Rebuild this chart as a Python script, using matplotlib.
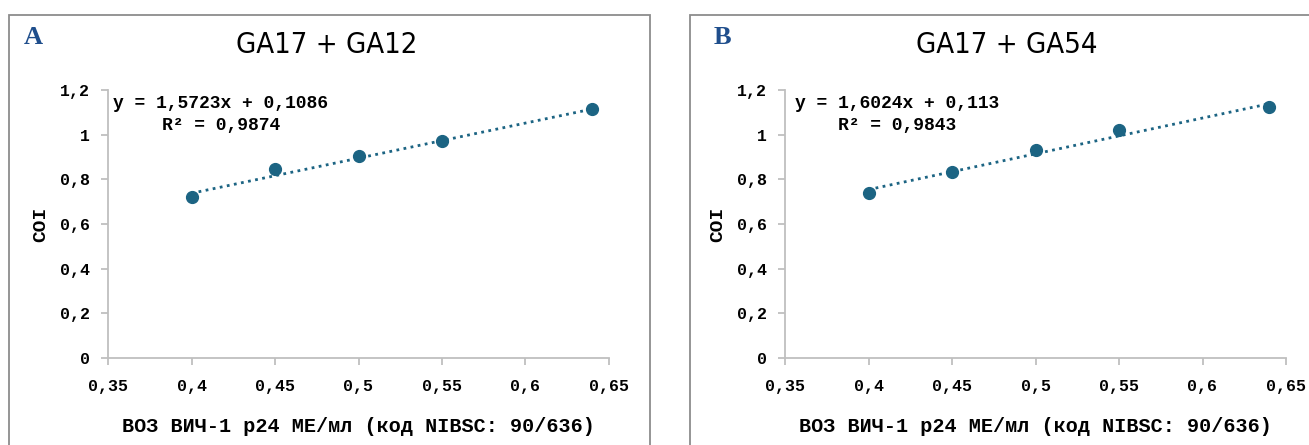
import numpy as np
import matplotlib.pyplot as plt
from matplotlib.patches import Rectangle

# data
conc = [0.4, 0.45, 0.5, 0.55, 0.64]
coi_a = [0.72, 0.845, 0.905, 0.97, 1.115]
coi_b = [0.74, 0.835, 0.93, 1.02, 1.125]
fit_a = (1.5723, 0.1086)
fit_b = (1.6024, 0.113)
eq_a = ["y = 1,5723x + 0,1086", "R² = 0,9874"]
eq_b = ["y = 1,6024x + 0,113", "R² = 0,9843"]
titles = ["GA17 + GA12", "GA17 + GA54"]
letters = ["A", "B"]
xticks = [0.35, 0.4, 0.45, 0.5, 0.55, 0.6, 0.65]
yticks = [0, 0.2, 0.4, 0.6, 0.8, 1.0, 1.2]
xlabel = "ВОЗ ВИЧ-1 p24 МЕ/мл (код NIBSC: 90/636)"

W, H = 1309, 445
mono = ["Liberation Mono", "DejaVu Sans Mono"]
dot_color = "#1c6483"
axis_color = "#bfbfbf"

fig = plt.figure(figsize=(W / 100, H / 100), dpi=100)


def fmt(v):
    s = f"{v:g}"
    return s.replace(".", ",")


panels = [
    dict(ax_left=108, frame=(9, 650), title_x=327, letter_x=33,
         y=coi_a, fit=fit_a, eq=eq_a, eq_x=(0.01, 0.108)),
    dict(ax_left=785, frame=(690, 1320), title_x=1007, letter_x=722,
         y=coi_b, fit=fit_b, eq=eq_b, eq_x=(0.02, 0.105)),
]

for i, p in enumerate(panels):
    # grey frame around the panel
    x0, x1 = p["frame"]
    fig.patches.append(Rectangle((x0 / W, -0.1), (x1 - x0) / W, 1.1 - 15 / H,
                                 transform=fig.transFigure, fill=False,
                                 edgecolor="#8c8c8c", linewidth=1.3))

    ax = fig.add_axes([p["ax_left"] / W, (H - 358) / H, 501 / W, 268 / H])
    ax.set_xlim(0.35, 0.65)
    ax.set_ylim(0, 1.2)

    xs = np.array([conc[0], conc[-1]])
    ax.plot(xs, p["fit"][0] * xs + p["fit"][1], linestyle=(0, (1, 1.6)),
            color=dot_color, linewidth=2, zorder=2)
    ax.plot(conc, p["y"], "o", color=dot_color, markersize=8.5, zorder=3)

    for side in ["top", "right"]:
        ax.spines[side].set_visible(False)
    for side in ["left", "bottom"]:
        ax.spines[side].set_color(axis_color)
        ax.spines[side].set_linewidth(1.3)
    ax.tick_params(colors=axis_color, length=5, width=1.3)
    ax.set_xticks(xticks)
    ax.set_yticks(yticks)
    ax.set_xticklabels([fmt(v) for v in xticks], family=mono, weight="bold",
                       fontsize=12, color="black")
    ax.set_yticklabels([fmt(v) for v in yticks], family=mono, weight="bold",
                       fontsize=12, color="black")
    ax.tick_params(axis="x", pad=10)
    ax.tick_params(axis="y", pad=8)

    ax.text(p["eq_x"][0], 0.951, p["eq"][0], transform=ax.transAxes,
            family=mono, weight="bold", fontsize=13, va="center")
    ax.text(p["eq_x"][1], 0.869, p["eq"][1], transform=ax.transAxes,
            family=mono, weight="bold", fontsize=13, va="center")

    ax.set_xlabel(xlabel, family=mono, weight="bold", fontsize=14.5, labelpad=17)
    ax.set_ylabel("COI", family=mono, weight="bold", fontsize=14, labelpad=8)

    fig.text(p["title_x"] / W, 1 - 45 / H, titles[i],
             family="DejaVu Sans", stretch="condensed", fontsize=21,
             ha="center", va="center")
    fig.text(p["letter_x"] / W, 1 - 38 / H, letters[i], family="Liberation Serif",
             weight="bold", fontsize=19, color="#1f4e8c", ha="center", va="center")

fig.savefig("out.png", dpi=100)
